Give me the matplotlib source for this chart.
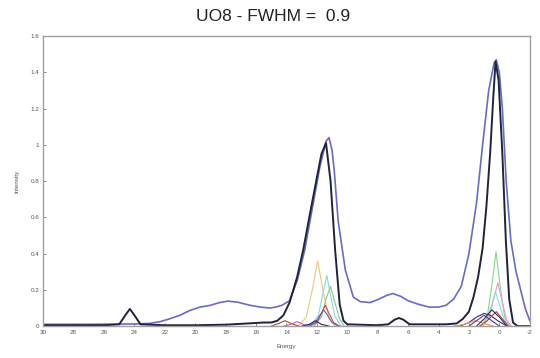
"""UO8 simulated spectrum, FWHM = 0.9: experimental trace, total fit and components."""

import matplotlib
matplotlib.use("Agg")
import matplotlib.pyplot as plt

# experimental spectrum (blue)
blue_e = [30, 27, 24, 23.0, 22.3, 21.7, 21.0, 20.4, 19.7, 19.0, 18.4, 17.85, 17.2, 16.4,
          15.7, 15.1, 14.7, 14.3, 13.8, 13.3, 12.8, 12.3, 11.8, 11.4, 11.2, 11.0, 10.86,
          10.6, 10.13, 9.6, 9.14, 8.5, 7.9, 7.4, 7.0, 6.5, 6.0, 5.3, 4.6, 4.0, 3.5, 3.0,
          2.5, 2.0, 1.5, 1.1, 0.7, 0.35, 0.2, 0.0, -0.2, -0.45, -0.76, -1.1, -1.4, -1.7, -2.0]
blue_y = [0.01, 0.01, 0.012, 0.015, 0.025, 0.04, 0.06, 0.085, 0.105, 0.115, 0.13, 0.138,
          0.132, 0.115, 0.105, 0.10, 0.105, 0.115, 0.14, 0.25, 0.42, 0.65, 0.88, 1.02, 1.04,
          0.97, 0.86, 0.58, 0.31, 0.16, 0.135, 0.13, 0.15, 0.17, 0.18, 0.165, 0.14, 0.12,
          0.105, 0.105, 0.115, 0.15, 0.22, 0.4, 0.68, 1.0, 1.3, 1.45, 1.47, 1.4, 1.2, 0.8,
          0.47, 0.3, 0.2, 0.1, 0.03]

# summed calculated spectrum (black)
black_e = [30, 26, 25.0, 24.6, 24.3, 24.0, 23.6, 22, 20, 18, 16.5, 15.5, 15.0, 14.6, 14.2,
           13.8, 13.3, 12.9, 12.5, 12.0, 11.7, 11.4, 11.1, 10.8, 10.5, 10.25, 10.0, 8, 7.3,
           6.9, 6.6, 6.3, 5.9, 5, 3.5, 2.8, 2.4, 2.0, 1.7, 1.4, 1.1, 0.85, 0.6, 0.4, 0.25,
           0.05, -0.2, -0.43, -0.65, -0.9, -1.2, -2]
black_y = [0.005, 0.005, 0.01, 0.06, 0.095, 0.06, 0.01, 0.005, 0.005, 0.008, 0.015, 0.02,
           0.02, 0.03, 0.06, 0.13, 0.27, 0.42, 0.6, 0.82, 0.95, 1.01, 0.8, 0.42, 0.12, 0.03,
           0.01, 0.005, 0.01, 0.035, 0.045, 0.035, 0.01, 0.01, 0.01, 0.015, 0.04, 0.08,
           0.16, 0.27, 0.43, 0.66, 0.96, 1.26, 1.46, 1.36, 0.95, 0.47, 0.15, 0.02, 0.0, 0.0]

# partial components (energy points, intensities, colour)
comp_e = [
    [13.2, 12.7, 12.3, 11.95, 11.6, 11.2, 10.8],
    [12.4, 11.9, 11.6, 11.35, 11.1, 10.8, 10.4],
    [12.2, 11.7, 11.4, 11.1, 10.85, 10.5, 10.2],
    [12.5, 12.0, 11.7, 11.45, 11.2, 10.9, 10.5],
    [12.6, 12.1, 11.8, 11.55, 11.3, 11.0, 10.6],
    [15.0, 14.5, 14.1, 13.7, 13.2],
    [14.2, 13.7, 13.3, 12.9, 12.4],
    [13.0, 12.5, 12.1, 11.7, 11.2],
    [1.2, 0.8, 0.5, 0.22, -0.05, -0.35, -0.7],
    [1.1, 0.7, 0.4, 0.1, -0.2, -0.5, -0.8],
    [1.2, 0.8, 0.5, 0.25, 0.0, -0.3, -0.6],
    [2.6, 2.0, 1.5, 1.0, 0.6, 0.1, -0.5],
    [1.3, 0.8, 0.2, -0.2, -0.6],
    [3.0, 2.3, 1.6, 1.0, 0.4],
    [2.0, 1.5, 1.0, 0.5, 0.0],
    [1.5, 1.0, 0.5, 0.0, -0.5],
]
comp_y = [
    [0.0, 0.05, 0.2, 0.36, 0.2, 0.04, 0.0],
    [0.0, 0.06, 0.18, 0.28, 0.17, 0.05, 0.0],
    [0.0, 0.05, 0.15, 0.22, 0.14, 0.04, 0.0],
    [0.0, 0.02, 0.07, 0.115, 0.07, 0.02, 0.0],
    [0.0, 0.02, 0.06, 0.09, 0.06, 0.02, 0.0],
    [0.0, 0.015, 0.03, 0.015, 0.0],
    [0.0, 0.01, 0.025, 0.01, 0.0],
    [0.0, 0.01, 0.03, 0.01, 0.0],
    [0.0, 0.05, 0.22, 0.41, 0.22, 0.05, 0.0],
    [0.0, 0.04, 0.14, 0.24, 0.13, 0.03, 0.0],
    [0.0, 0.04, 0.12, 0.19, 0.12, 0.04, 0.0],
    [0.0, 0.02, 0.05, 0.07, 0.06, 0.03, 0.0],
    [0.0, 0.03, 0.08, 0.04, 0.0],
    [0.0, 0.01, 0.03, 0.015, 0.0],
    [0.0, 0.03, 0.06, 0.03, 0.0],
    [0.0, 0.04, 0.09, 0.05, 0.0],
]
comp_colors = ["#f2c477", "#86dada", "#86c986", "#d04848", "#4a64c4", "#a0522d",
               "#c066c0", "#24245e", "#86d686", "#ec98d6", "#8adce4", "#2c2c84",
               "#c83c3c", "#e8a040", "#7030a0", "#303050"]

x_ticks = list(range(30, -3, -2))
y_ticks = [0, 0.2, 0.4, 0.6, 0.8, 1, 1.2, 1.4, 1.6]
y_tick_labels = ["0", "0.2", "0.4", "0.6", "0.8", "1", "1.2", "1.4", "1.6"]

plt.rcParams["font.family"] = ["Liberation Sans", "DejaVu Sans"]

fig = plt.figure(figsize=(5.4, 3.58), dpi=100)
ax = fig.add_axes([0.08, 0.089, 0.901, 0.81])

for e, y, c in zip(comp_e, comp_y, comp_colors):
    ax.plot(e, y, color=c, lw=0.8)
ax.plot(blue_e, blue_y, color="#6a6ac8", lw=1.2)
ax.plot(black_e, black_y, color="#22223a", lw=1.4)

ax.set_xlim(30, -2)
ax.set_ylim(0, 1.6)
ax.set_xticks(x_ticks)
ax.set_xticklabels([str(t) for t in x_ticks])
ax.set_yticks(y_ticks)
ax.set_yticklabels(y_tick_labels)
ax.tick_params(direction="in", length=2, width=0.6, labelsize=4.5,
               colors="#777777", labelcolor="#555555", pad=3)
for spine in ax.spines.values():
    spine.set_color("#a0a0a0")
    spine.set_linewidth(1.0)

ax.set_xlabel("Energy", fontsize=4.5, color="#555555", labelpad=6)
ax.set_ylabel("Intensity", fontsize=4.5, color="#555555", labelpad=8)
fig.suptitle("UO8 - FWHM =  0.9", x=0.505, y=0.975, fontsize=12.5, color="#222222")

fig.savefig("out.png", dpi=100)
